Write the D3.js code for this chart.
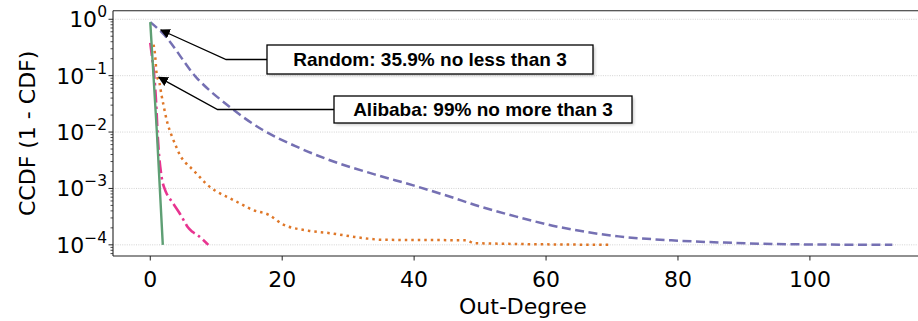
<!DOCTYPE html>
<html>
<head>
<meta charset="utf-8">
<script src="https://cdn.jsdelivr.net/npm/d3@7"></script>
<style>
  body { margin: 0; background: #fff; }
  svg { display: block; }
  .tick-label { font-family: "DejaVu Sans", sans-serif; font-size: 22px; fill: #000; }
  .note { font-family: "Liberation Sans", Arial, sans-serif; font-weight: bold; font-size: 19px; }
</style>
</head>
<body>
<svg id="chart" width="918" height="321"></svg>
<script>
// CCDF values, log10 of y kept as raw values below
var xTicks = [0, 20, 40, 60, 80, 100];
var yTicks = [1, 1e-1, 1e-2, 1e-3, 1e-4];

var randomX   = [0, 1.9, 6.9, 12, 17, 22, 27, 34, 40, 45, 50, 55.5, 61, 66, 71, 79, 87, 97, 112.5];
var randomLog = [-0.05, -0.25, -1.02, -1.55, -1.96, -2.25, -2.49, -2.75, -2.95, -3.13, -3.32, -3.5, -3.66, -3.77, -3.85, -3.92, -3.96, -3.99, -4.0];

var orangeX   = [0.5, 0.7, 1.0, 1.4, 1.7, 2, 2.6, 3.2, 3.9, 4.6, 5.4, 6.2, 7.2, 8.5, 10, 12, 13.5, 15.5, 18, 20, 24, 27, 31, 33, 35, 48, 49, 70];
var orangeLog = [-0.45, -0.6, -1.0, -1.13, -1.34, -1.52, -1.84, -2.05, -2.25, -2.43, -2.55, -2.64, -2.76, -2.92, -3.05, -3.17, -3.26, -3.38, -3.47, -3.63, -3.75, -3.79, -3.86, -3.89, -3.91, -3.92, -3.97, -4.0];

var pinkX   = [0, 0.3, 0.6, 0.9, 1.1, 1.6, 2.4, 2.9, 3.6, 4.4, 5.1, 5.7, 6.4, 7.2, 7.9, 8.8];
var pinkLog = [-0.42, -0.7, -1.0, -1.5, -2.0, -2.7, -3.07, -3.17, -3.29, -3.43, -3.57, -3.69, -3.77, -3.83, -3.9, -4.0];

var greenX   = [0, 1, 1.9];
var greenLog = [-0.05, -2.0, -4.0];

var notes = [
  {text: "Random: 35.9% no less than 3", tip: [1.6, -0.19], knee: [11.5, -0.72], box: [267, 45, 326, 29]},
  {text: "Alibaba: 99% no more than 3",  tip: [1.3, -1.03], knee: [10.2, -1.6],  box: [334, 96, 298, 27]}
];

var svg = d3.select("#chart");

var x = d3.scaleLinear().domain([-5.65, 118.6]).range([113, 932.6]);
var y = d3.scaleLog().domain([Math.pow(10, -4.198), Math.pow(10, 0.152)]).range([256, 10.7]);

var plotTop = 10.7, plotBottom = 256, plotLeft = 113;

// grid
svg.append("g").selectAll("line").data(yTicks).enter().append("line")
  .attr("x1", plotLeft).attr("x2", 918)
  .attr("y1", function(d){ return y(d); }).attr("y2", function(d){ return y(d); })
  .attr("stroke", "#c8c8c8").attr("stroke-width", 0.8)
  .attr("stroke-dasharray", "1,1.3");

// series
function series(xs, logs) {
  return xs.map(function(v, i){ return [v, Math.pow(10, logs[i])]; });
}
var line = d3.line().curve(d3.curveMonotoneX)
  .x(function(d){ return x(d[0]); }).y(function(d){ return y(d[1]); });

var plot = svg.append("g");
plot.append("path").datum(series(randomX, randomLog))
  .attr("d", line).attr("fill", "none").attr("stroke", "#7570b3")
  .attr("stroke-width", 2.5).attr("stroke-dasharray", "9,4.5");
plot.append("path").datum(series(orangeX, orangeLog))
  .attr("d", line).attr("fill", "none").attr("stroke", "#d95f02").attr("stroke-opacity", 0.85)
  .attr("stroke-width", 2.5).attr("stroke-dasharray", "2.5,4");
plot.append("path").datum(series(pinkX, pinkLog))
  .attr("d", line).attr("fill", "none").attr("stroke", "#e7298a").attr("stroke-opacity", 0.95)
  .attr("stroke-width", 2.6).attr("stroke-dasharray", "13,4,2.5,4");
plot.append("path").datum(series(greenX, greenLog))
  .attr("d", d3.line().x(function(d){ return x(d[0]); }).y(function(d){ return y(d[1]); }))
  .attr("fill", "none").attr("stroke", "#5e9f74")
  .attr("stroke-width", 2.4);

// spines
svg.append("line").attr("x1", plotLeft).attr("x2", plotLeft).attr("y1", plotTop).attr("y2", plotBottom)
  .attr("stroke", "#222").attr("stroke-width", 1.1);
svg.append("line").attr("x1", plotLeft).attr("x2", 918).attr("y1", plotTop).attr("y2", plotTop)
  .attr("stroke", "#222").attr("stroke-width", 1.1);
svg.append("line").attr("x1", plotLeft).attr("x2", 918).attr("y1", plotBottom).attr("y2", plotBottom)
  .attr("stroke", "#222").attr("stroke-width", 1.1);

// x axis
var xg = svg.append("g").selectAll("g").data(xTicks).enter().append("g");
xg.append("line")
  .attr("x1", function(d){ return x(d); }).attr("x2", function(d){ return x(d); })
  .attr("y1", plotBottom).attr("y2", plotBottom + 4.5)
  .attr("stroke", "#222").attr("stroke-width", 1);
xg.append("text").attr("class", "tick-label")
  .attr("x", function(d){ return x(d); }).attr("y", plotBottom + 31)
  .attr("text-anchor", "middle").text(function(d){ return d; });

// y axis, minor ticks
var minor = [];
[-5, -4, -3, -2, -1, 0].forEach(function(e){
  for (var m = 2; m < 10; m++) {
    var v = m * Math.pow(10, e);
    if (v > y.domain()[0] && v < y.domain()[1]) minor.push(v);
  }
});
svg.append("g").selectAll("line").data(minor).enter().append("line")
  .attr("x1", plotLeft - 2.5).attr("x2", plotLeft)
  .attr("y1", function(d){ return y(d); }).attr("y2", function(d){ return y(d); })
  .attr("stroke", "#222").attr("stroke-width", 0.8);

var yg = svg.append("g").selectAll("g").data(yTicks).enter().append("g");
yg.append("line")
  .attr("x1", plotLeft - 4.5).attr("x2", plotLeft)
  .attr("y1", function(d){ return y(d); }).attr("y2", function(d){ return y(d); })
  .attr("stroke", "#222").attr("stroke-width", 1);
var yl = yg.append("text").attr("class", "tick-label")
  .attr("x", plotLeft - 6).attr("y", function(d){ return y(d) + 8; })
  .attr("text-anchor", "end");
yl.append("tspan").text("10");
yl.append("tspan").attr("dy", -10).attr("font-size", 15.5)
  .text(function(d){ var e = Math.round(Math.log10(d)); return e < 0 ? "\u2212" + (-e) : e; });

// axis titles
svg.append("text").attr("class", "tick-label").attr("font-size", 23)
  .attr("x", x(56.5)).attr("y", 314).attr("text-anchor", "middle").text("Out-Degree");
svg.append("text").attr("class", "tick-label")
  .attr("transform", "translate(35," + ((plotTop + plotBottom) / 2) + ") rotate(-90)")
  .attr("text-anchor", "middle").text("CCDF (1 - CDF)");

// annotations
var defs = svg.append("defs");
defs.append("marker").attr("id", "head")
  .attr("viewBox", "0 0 10 10").attr("refX", 9).attr("refY", 5)
  .attr("markerWidth", 10).attr("markerHeight", 10).attr("markerUnits", "userSpaceOnUse")
  .attr("orient", "auto")
  .append("path").attr("d", "M0,0 L10,5 L0,10 z").attr("fill", "#000");
var blur = defs.append("filter").attr("id", "shadow").attr("x", -0.1).attr("y", -0.3).attr("width", 1.2).attr("height", 1.8);
blur.append("feGaussianBlur").attr("stdDeviation", 1.5);

notes.forEach(function(n){
  var b = n.box;
  var tip = [x(n.tip[0]), y(Math.pow(10, n.tip[1]))];
  var kneeX = x(n.knee[0]);
  var midY = b[1] + b[3] / 2;
  svg.append("path")
    .attr("d", "M" + b[0] + "," + midY + " L" + kneeX + "," + midY + " L" + tip[0] + "," + tip[1])
    .attr("fill", "none").attr("stroke", "#000").attr("stroke-width", 1.3)
    .attr("marker-end", "url(#head)");
  svg.append("rect").attr("x", b[0] + 2).attr("y", b[1] + 2).attr("width", b[2]).attr("height", b[3])
    .attr("fill", "#999").attr("opacity", 0.5).attr("filter", "url(#shadow)");
  svg.append("rect").attr("x", b[0]).attr("y", b[1]).attr("width", b[2]).attr("height", b[3])
    .attr("fill", "#fff").attr("stroke", "#000").attr("stroke-width", 1.3);
  svg.append("text").attr("class", "note")
    .attr("x", b[0] + b[2] / 2).attr("y", midY + 6.8)
    .attr("text-anchor", "middle").text(n.text);
});
</script>
</body>
</html>
